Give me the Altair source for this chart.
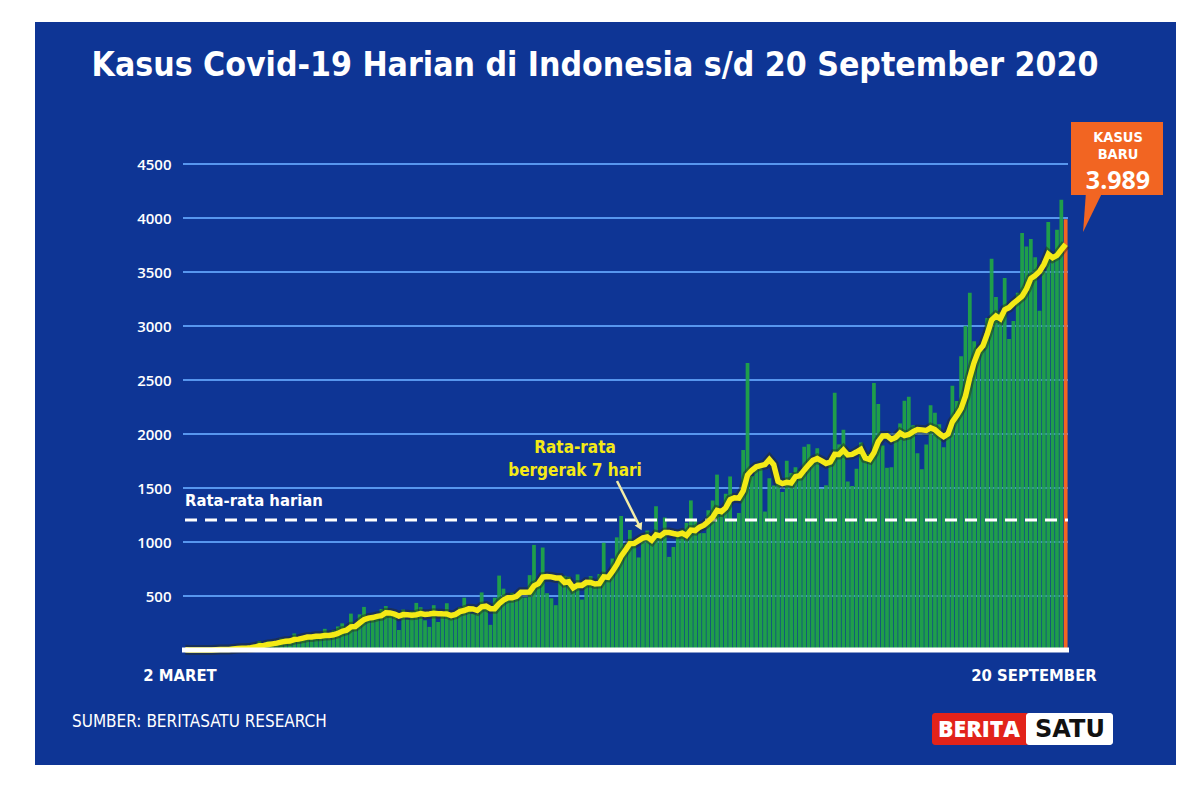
import altair as alt
import pandas as pd

# Daily new Covid-19 cases, Indonesia, 2 Maret - 20 September 2020
maret = [2, 0, 0, 0, 2, 0, 2, 13, 8, 7, 0, 35, 27, 21, 17, 38, 55, 82, 60, 81,
         64, 65, 107, 104, 103, 153, 109, 130, 129, 114]
april = [149, 113, 196, 106, 181, 218, 247, 218, 337, 219, 330, 399, 316, 282, 297,
         380, 407, 325, 327, 185, 375, 283, 357, 436, 396, 275, 214, 415, 260, 347]
mei = [433, 292, 349, 395, 484, 367, 338, 336, 533, 387, 233, 484, 689, 568, 490, 529,
       489, 496, 486, 693, 973, 634, 949, 526, 479, 415, 686, 687, 678, 557, 700]
juni = [467, 609, 684, 585, 703, 993, 672, 847, 1043, 1241, 979, 1111, 1014, 857, 1017,
        1106, 1031, 1331, 1041, 1226, 862, 954, 1051, 1113, 1178, 1385, 1198, 1082, 1082, 1293]
juli = [1385, 1624, 1301, 1447, 1607, 1209, 1268, 1853, 2657, 1611, 1671, 1681, 1282, 1591,
        1522, 1574, 1462, 1752, 1639, 1693, 1655, 1882, 1906, 1761, 1868, 1492, 1525, 1748,
        2381, 1904, 2040]
agustus = [1560, 1519, 1679, 1922, 1815, 1815, 2473, 2277, 1893, 1687, 1693, 1942, 2098, 2307,
           2345, 2081, 1821, 1673, 1902, 2266, 2197, 2090, 1877, 2006, 2447, 2306, 2719, 3003,
           3308, 2858, 2743]
september = [2775, 3075, 3622, 3269, 3128, 3444, 2880, 3046, 3307, 3861, 3737, 3806, 3636, 3141,
             3507, 3963, 3635, 3891, 4168, 3989]

y_ticks = [500, 1000, 1500, 2000, 2500, 3000, 3500, 4000, 4500]

cases = maret + april + mei + juni + juli + agustus + september
dates = pd.date_range("2020-03-02", "2020-09-20").strftime("%Y-%m-%d").tolist()
df = pd.DataFrame({"date": dates, "cases": cases})
df["kind"] = ["harian"] * (len(df) - 1) + ["baru"]
grid_df = pd.DataFrame({"v": y_ticks})

BLUE = "#0e3595"
GRID = "#5796ee"
GREEN = "#1f9e4b"
ORANGE = "#f26522"
YELLOW = "#f4ea16"

W, H = 885, 486

xenc = alt.X("date:O", axis=None, scale=alt.Scale(paddingInner=0.14, paddingOuter=0.1))
one = alt.Data(values=[{"a": 1}])

panel = alt.Chart(one).mark_rect(color=BLUE).encode(
    x=alt.value(-148), x2=alt.value(993), y=alt.value(-142), y2=alt.value(601)
)

grid = alt.Chart(grid_df).mark_rule(color=GRID, strokeWidth=2).encode(
    y=alt.Y("v:Q", title=None), x=alt.value(0), x2=alt.value(W)
)
grid_over = alt.Chart(grid_df).mark_rule(color=GRID, strokeWidth=1.5, opacity=0.18).encode(
    y=alt.Y("v:Q", title=None), x=alt.value(0), x2=alt.value(W)
)

bars = alt.Chart(df).mark_bar().encode(
    x=xenc,
    y=alt.Y("cases:Q", title=None,
            scale=alt.Scale(domain=[0, 4500], nice=False),
            axis=alt.Axis(values=y_ticks, format="d", grid=False, domain=False, ticks=False,
                          labelColor="white", labelFontSize=15, labelFont="Open Sans",
                          labelFontWeight=600, labelPadding=12, zindex=1)),
    color=alt.Color("kind:N", legend=None,
                    scale=alt.Scale(domain=["harian", "baru"], range=[GREEN, ORANGE])),
)

ma_base = alt.Chart(df).transform_window(
    ma="mean(cases)", frame=[-6, 0], sort=[alt.SortField("date")]
)
ma_shadow = ma_base.mark_line(color="#2b2a10", strokeWidth=10, opacity=0.45).encode(
    x=xenc, y=alt.Y("ma:Q", title=None)
)
ma_line = ma_base.mark_line(color=YELLOW, strokeWidth=5.5).encode(
    x=xenc, y=alt.Y("ma:Q", title=None)
)

mean_rule = alt.Chart(df).transform_aggregate(m="mean(cases)").mark_rule(
    color="white", strokeWidth=3, strokeDash=[12, 8]
).encode(y=alt.Y("m:Q", title=None), x=alt.value(2), x2=alt.value(885))

baseline = alt.Chart(one).mark_rule(color="white", strokeWidth=5).encode(
    y=alt.datum(0), x=alt.value(-1), x2=alt.value(886)
)


def txt(t, px, py, size, color="white", weight="bold", align="center",
        font="Open Sans", baseline="middle"):
    return alt.Chart(one).mark_text(
        text=t, fontSize=size, color=color, fontWeight=weight, align=align,
        font=font, baseline=baseline
    ).encode(x=alt.value(px), y=alt.value(py))


title = txt("Kasus Covid-19 Harian di Indonesia s/d 20 September 2020", 412, -98, 33.5,
            font="DejaVu Sans Condensed")
lbl_start = txt("2 MARET", -3, 512, 16.5, font="DejaVu Sans Condensed")
lbl_end = txt("20 SEPTEMBER", 851, 512, 16.5, font="DejaVu Sans Condensed")
source = txt("SUMBER: BERITASATU RESEARCH", -111, 558, 17, weight="normal", align="left",
             font="DejaVu Sans Condensed")
avg_lbl = txt("Rata-rata harian", 2, 337, 16.5, align="left", font="DejaVu Sans Condensed")
ma_lbl1 = txt("Rata-rata", 392, 284, 17, color=YELLOW, font="DejaVu Sans Condensed")
ma_lbl2 = txt("bergerak 7 hari", 392, 307, 17, color=YELLOW, font="DejaVu Sans Condensed")

arrow = alt.Chart(one).mark_rule(color="#f3eca8", strokeWidth=2.5).encode(
    x=alt.value(434), x2=alt.value(456), y=alt.value(317), y2=alt.value(361)
)
arrow_head = alt.Chart(one).mark_point(
    shape="triangle-down", filled=True, color="#f3eca8", size=70, angle=334, opacity=1
).encode(x=alt.value(457), y=alt.value(363))

callout_box = alt.Chart(one).mark_rect(color=ORANGE).encode(
    x=alt.value(888), x2=alt.value(980), y=alt.value(-42), y2=alt.value(31)
)
callout_ptr = alt.Chart(one).mark_point(
    shape="M-0.32,-1.05 L0.53,-1.05 L-0.47,1 Z", filled=True, color=ORANGE, size=1444,
    opacity=1
).encode(x=alt.value(909), y=alt.value(49))
c1 = txt("KASUS", 935, -26, 14.5, font="DejaVu Sans Condensed")
c2 = txt("BARU", 935, -9, 14.5, font="DejaVu Sans Condensed")
c3 = txt("3.989", 935, 17, 25)

logo_red = alt.Chart(one).mark_rect(color="#e2231a", cornerRadius=3).encode(
    x=alt.value(749), x2=alt.value(846), y=alt.value(549), y2=alt.value(581)
)
logo_white = alt.Chart(one).mark_rect(color="white", cornerRadius=3).encode(
    x=alt.value(843), x2=alt.value(930), y=alt.value(549), y2=alt.value(581)
)
logo_t1 = txt("BERITA", 796, 566, 23, font="Open Sans", weight=800)
logo_t2 = txt("SATU", 887, 566, 24, color="#111111", font="DejaVu Sans")

chart = alt.layer(
    panel, grid, bars, grid_over, mean_rule, ma_shadow, ma_line, baseline, title, lbl_start,
    lbl_end, source, avg_lbl, ma_lbl1, ma_lbl2, arrow, arrow_head, callout_box, callout_ptr,
    c1, c2, c3, logo_red, logo_white, logo_t1, logo_t2
).properties(
    width=W, height=H,
    autosize=alt.AutoSizeParams(type="none"),
    padding={"left": 175, "top": 156, "right": 124, "bottom": 138},
    background="white",
).configure_view(stroke=None)

chart.save("out.html", embed_options={"renderer": "svg", "actions": False})
